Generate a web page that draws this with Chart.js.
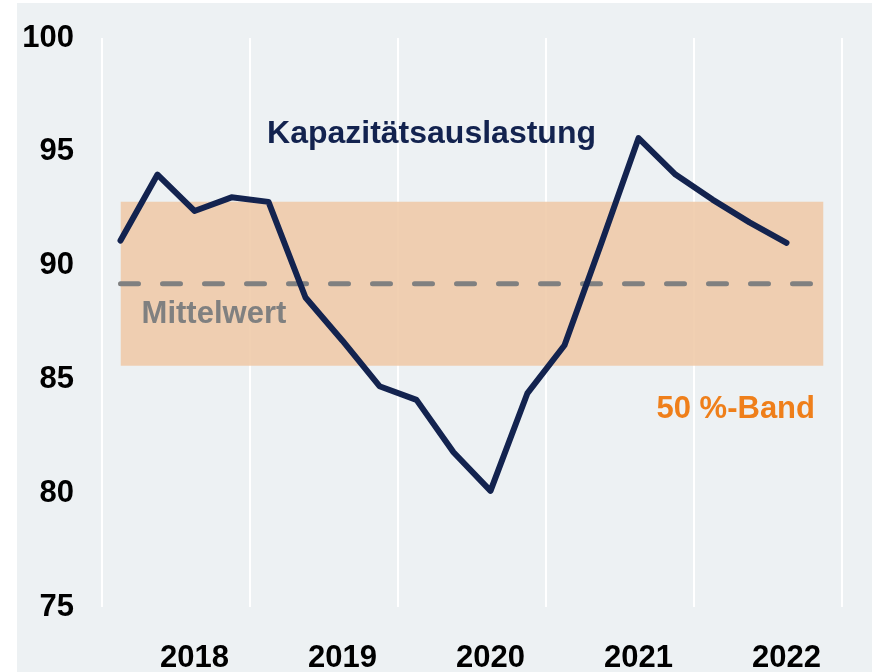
<!DOCTYPE html>
<html>
<head>
<meta charset="utf-8">
<script src="https://cdn.jsdelivr.net/npm/chart.js@4.4.0/dist/chart.umd.min.js"></script>
<style>
  html, body { margin: 0; padding: 0; background: #ffffff; }
  #c { display: block; }
</style>
</head>
<body>
<canvas id="c" width="877" height="672"></canvas>
<script>
// Quarterly capacity utilisation (index position = quarter, 0 = first quarter shown)
const quarters = ["Q4 2017","Q1 2018","Q2 2018","Q3 2018","Q4 2018","Q1 2019","Q2 2019","Q3 2019","Q4 2019","Q1 2020","Q2 2020","Q3 2020","Q4 2020","Q1 2021","Q2 2021","Q3 2021","Q4 2021","Q1 2022","Q2 2022"];
const utilisation = [91.1, 94.0, 92.4, 93.0, 92.8, 88.6, 86.7, 84.7, 84.1, 81.8, 80.1, 84.4, 86.5, 91.0, 95.6, 94.0, 92.9, 91.9, 91.0];
const meanValue = 89.2;
const bandUpper = 92.8;
const bandLower = 85.6;
const yearLabels = ["2018", "2019", "2020", "2021", "2022"];
const yearLabelPositions = [2.5, 6.5, 10.5, 14.5, 18.5];
const yearGridPositions = [0, 4, 8, 12, 16, 20];
const yTicks = [75, 80, 85, 90, 95, 100];

const FONT = "'Liberation Sans', Arial, Helvetica, sans-serif";
const NAVY = "#13234f";
const GREY = "#808080";
const ORANGE = "#ef7f1a";

const lineData = utilisation.map((v, i) => ({ x: i + 0.5, y: v }));
const bandStart = 0.5, bandEnd = 19.5;

const bgPlugin = {
  id: 'panelBg',
  beforeDraw(chart) {
    const ctx = chart.ctx;
    ctx.save();
    ctx.fillStyle = '#ffffff';
    ctx.fillRect(0, 0, chart.width, chart.height);
    ctx.fillStyle = '#edf1f3';
    ctx.fillRect(17, 3, 855, 669);
    ctx.restore();
  }
};

const textPlugin = {
  id: 'annotTexts',
  afterDatasetsDraw(chart) {
    const ctx = chart.ctx;
    const xs = chart.scales.x, ys = chart.scales.y;
    ctx.save();
    ctx.textBaseline = 'alphabetic';
    ctx.font = "bold 32px " + FONT;
    ctx.fillStyle = NAVY;
    ctx.textAlign = 'left';
    ctx.fillText("Kapazitätsauslastung", xs.getPixelForValue(4.46), ys.getPixelForValue(95.4));
    ctx.font = "bold 31px " + FONT;
    ctx.fillStyle = GREY;
    ctx.fillText("Mittelwert", xs.getPixelForValue(1.07), ys.getPixelForValue(87.48));
    ctx.fillStyle = ORANGE;
    ctx.textAlign = 'right';
    ctx.fillText("50 %-Band", xs.getPixelForValue(19.27), ys.getPixelForValue(83.32));
    ctx.restore();
  }
};

new Chart(document.getElementById('c'), {
  type: 'line',
  data: {
    datasets: [
      {
        label: 'Kapazitätsauslastung',
        data: lineData,
        borderColor: NAVY,
        borderWidth: 6,
        borderJoinStyle: 'round',
        borderCapStyle: 'round',
        pointRadius: 0,
        tension: 0,
        fill: false,
        order: 0
      },
      {
        label: 'Mittelwert',
        data: [{ x: bandStart, y: meanValue }, { x: bandEnd, y: meanValue }],
        borderColor: GREY,
        borderWidth: 5,
        borderDash: [18, 24],
        borderCapStyle: 'round',
        pointRadius: 0,
        fill: false,
        order: 1
      },
      {
        label: 'Band oben',
        data: [{ x: bandStart, y: bandUpper }, { x: bandEnd, y: bandUpper }],
        borderWidth: 0,
        borderColor: 'rgba(0,0,0,0)',
        pointRadius: 0,
        fill: false,
        order: 3
      },
      {
        label: '50 %-Band',
        data: [{ x: bandStart, y: bandLower }, { x: bandEnd, y: bandLower }],
        borderWidth: 0,
        borderColor: 'rgba(0,0,0,0)',
        backgroundColor: 'rgba(238,200,165,0.85)',
        pointRadius: 0,
        fill: '-1',
        order: 2
      }
    ]
  },
  options: {
    responsive: false,
    animation: false,
    devicePixelRatio: 1,
    layout: { padding: { top: 38, right: 35, bottom: 0, left: 0 } },
    plugins: {
      legend: { display: false },
      tooltip: { enabled: false },
      filler: { propagate: false }
    },
    scales: {
      x: {
        type: 'linear',
        min: 0,
        max: 20,
        afterBuildTicks(scale) {
          const vals = yearGridPositions.concat(yearLabelPositions).sort((a, b) => a - b);
          scale.ticks = vals.map(v => ({ value: v }));
        },
        afterFit(scale) {
          scale.height = 65;
          scale.paddingLeft = 0; scale.paddingRight = 0;
        },
        grid: {
          drawTicks: false,
          lineWidth: 2,
          color(ctx) {
            const v = ctx.tick ? ctx.tick.value : null;
            return yearGridPositions.includes(v) ? '#ffffff' : 'rgba(0,0,0,0)';
          }
        },
        border: { display: false },
        ticks: {
          autoSkip: false,
          maxRotation: 0,
          padding: 33,
          color: '#000000',
          font: { family: FONT, size: 31, weight: 'bold' },
          callback(value) {
            const idx = yearLabelPositions.indexOf(value);
            return idx >= 0 ? yearLabels[idx] : '';
          }
        }
      },
      y: {
        min: 75,
        max: 100,
        afterBuildTicks(scale) { scale.ticks = yTicks.map(v => ({ value: v })); },
        afterFit(scale) {
          scale.width = 102;
          scale.paddingTop = 0; scale.paddingBottom = 0;
        },
        grid: { display: false, drawTicks: false },
        border: { display: false },
        ticks: {
          padding: 28,
          color: '#000000',
          font: { family: FONT, size: 31, weight: 'bold' }
        }
      }
    }
  },
  plugins: [bgPlugin, textPlugin]
});
</script>
</body>
</html>
